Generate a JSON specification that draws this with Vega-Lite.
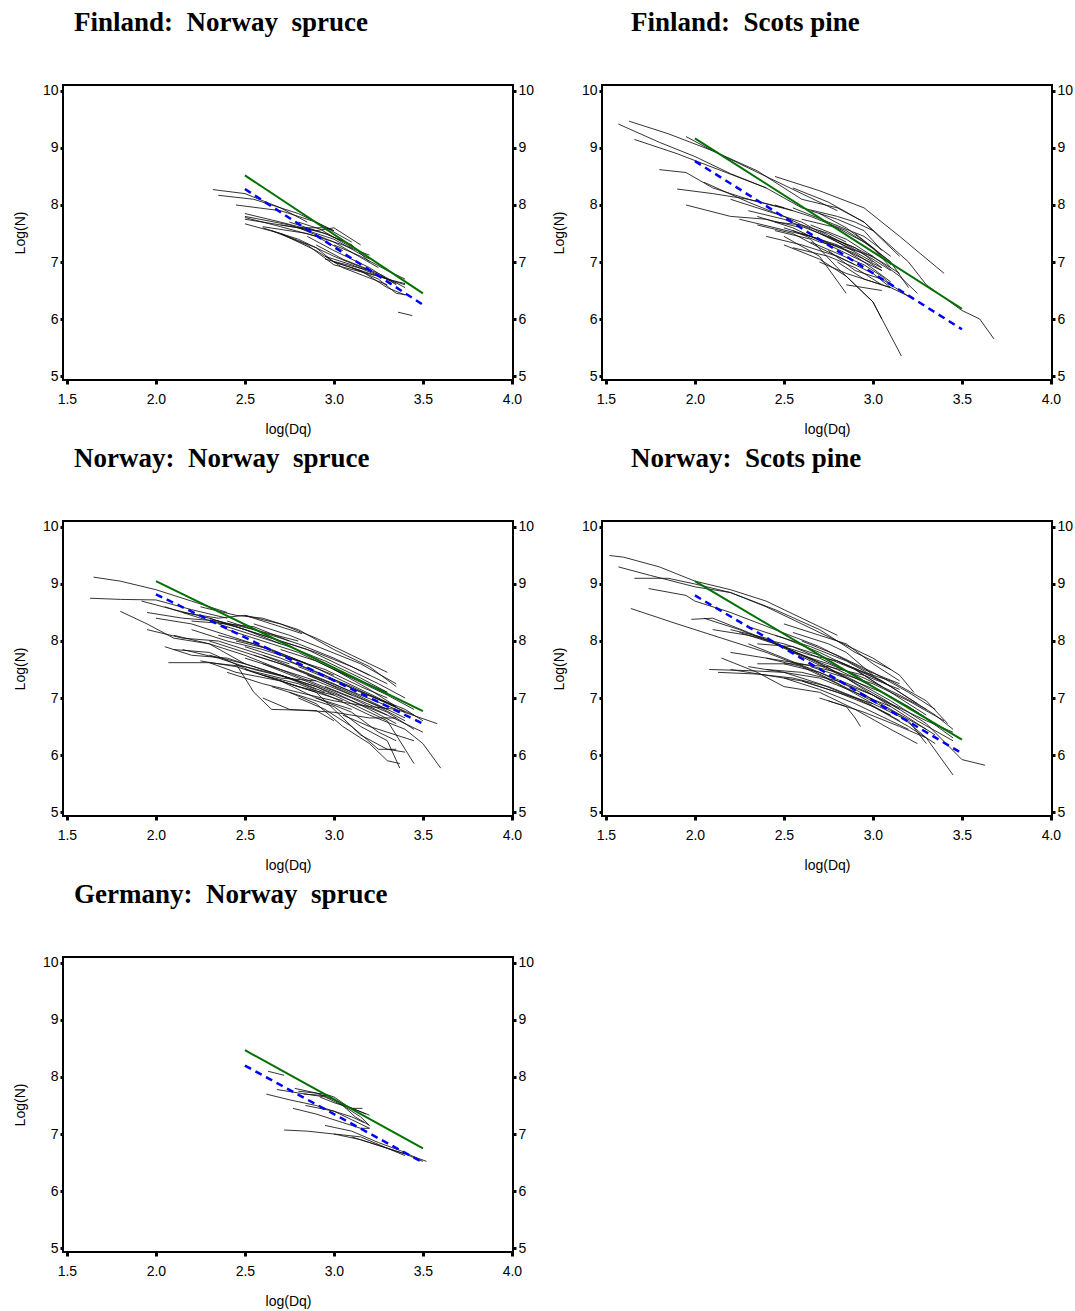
{
"$schema":"https://vega.github.io/schema/vega-lite/v6.json",
"background":"white",
"padding":{"left":12,"top":7,"right":5,"bottom":5},
"config":{
 "view":{"stroke":"black","strokeWidth":2},
 "axis":{"grid":false,"domain":false,"tickColor":"black","tickSize":4,"tickWidth":3,"labelFont":"Liberation Sans","labelFontSize":14,"labelColor":"black","titleFont":"Liberation Sans","titleFontSize":14,"titleFontWeight":"normal","titleColor":"black"},
 "title":{"font":"Liberation Serif","fontSize":27,"fontWeight":"bold","anchor":"start","frame":"group","dx":11,"offset":47,"baseline":"bottom","color":"black"}
},
"datasets":{
"ref":[
{"p":1,"k":"g","x":2.5,"y":8.52},{"p":1,"k":"g","x":3.5,"y":6.45},{"p":1,"k":"b","x":2.5,"y":8.28},{"p":1,"k":"b","x":3.5,"y":6.25},
{"p":2,"k":"g","x":2.0,"y":9.17},{"p":2,"k":"g","x":3.5,"y":6.18},{"p":2,"k":"b","x":2.0,"y":8.77},{"p":2,"k":"b","x":3.5,"y":5.82},
{"p":3,"k":"g","x":2.0,"y":9.05},{"p":3,"k":"g","x":3.5,"y":6.77},{"p":3,"k":"b","x":2.0,"y":8.82},{"p":3,"k":"b","x":3.5,"y":6.55},
{"p":4,"k":"g","x":2.0,"y":9.05},{"p":4,"k":"g","x":3.5,"y":6.27},{"p":4,"k":"b","x":2.0,"y":8.8},{"p":4,"k":"b","x":3.5,"y":6.03},
{"p":5,"k":"g","x":2.5,"y":8.47},{"p":5,"k":"g","x":3.5,"y":6.75},{"p":5,"k":"b","x":2.5,"y":8.2},{"p":5,"k":"b","x":3.5,"y":6.5}
],
"tr":[
{"p":1,"i":1,"x":2.32,"y":8.27},{"p":1,"i":1,"x":2.5,"y":8.2},{"p":1,"i":1,"x":2.7,"y":7.95},{"p":1,"i":1,"x":2.85,"y":7.7},
{"p":1,"i":2,"x":2.35,"y":8.17},{"p":1,"i":2,"x":2.55,"y":8.1},{"p":1,"i":2,"x":2.8,"y":7.85},{"p":1,"i":2,"x":3.0,"y":7.55},
{"p":1,"i":3,"x":2.45,"y":8.0},{"p":1,"i":3,"x":2.7,"y":7.9},{"p":1,"i":3,"x":2.9,"y":7.7},{"p":1,"i":3,"x":3.1,"y":7.35},
{"p":1,"i":4,"x":2.5,"y":7.85},{"p":1,"i":4,"x":2.7,"y":7.7},{"p":1,"i":4,"x":2.95,"y":7.5},{"p":1,"i":4,"x":3.1,"y":7.3},
{"p":1,"i":5,"x":2.5,"y":7.8},{"p":1,"i":5,"x":2.75,"y":7.65},{"p":1,"i":5,"x":3.0,"y":7.4},{"p":1,"i":5,"x":3.2,"y":7.05},
{"p":1,"i":6,"x":2.5,"y":7.75},{"p":1,"i":6,"x":2.8,"y":7.6},{"p":1,"i":6,"x":3.0,"y":7.35},{"p":1,"i":6,"x":3.25,"y":6.9},
{"p":1,"i":7,"x":2.5,"y":7.78},{"p":1,"i":7,"x":2.7,"y":7.62},{"p":1,"i":7,"x":2.9,"y":7.45},{"p":1,"i":7,"x":3.05,"y":7.2},
{"p":1,"i":8,"x":2.5,"y":7.67},{"p":1,"i":8,"x":2.7,"y":7.5},{"p":1,"i":8,"x":2.9,"y":7.25},{"p":1,"i":8,"x":3.0,"y":7.0},{"p":1,"i":8,"x":3.3,"y":6.7},
{"p":1,"i":9,"x":2.6,"y":7.6},{"p":1,"i":9,"x":2.8,"y":7.4},{"p":1,"i":9,"x":3.0,"y":7.1},{"p":1,"i":9,"x":3.2,"y":6.85},
{"p":1,"i":10,"x":2.65,"y":7.55},{"p":1,"i":10,"x":2.85,"y":7.3},{"p":1,"i":10,"x":3.0,"y":6.95},{"p":1,"i":10,"x":3.25,"y":6.75},{"p":1,"i":10,"x":3.4,"y":6.6},
{"p":1,"i":11,"x":2.7,"y":7.5},{"p":1,"i":11,"x":2.9,"y":7.2},{"p":1,"i":11,"x":3.05,"y":6.9},{"p":1,"i":11,"x":3.3,"y":6.6},
{"p":1,"i":12,"x":2.7,"y":7.65},{"p":1,"i":12,"x":2.9,"y":7.55},{"p":1,"i":12,"x":3.0,"y":7.6},{"p":1,"i":12,"x":3.15,"y":7.3},
{"p":1,"i":13,"x":2.8,"y":7.6},{"p":1,"i":13,"x":2.95,"y":7.6},{"p":1,"i":13,"x":3.0,"y":7.55},
{"p":1,"i":14,"x":2.75,"y":7.7},{"p":1,"i":14,"x":2.95,"y":7.5},{"p":1,"i":14,"x":3.1,"y":7.3},{"p":1,"i":14,"x":3.2,"y":7.0},
{"p":1,"i":15,"x":2.85,"y":7.45},{"p":1,"i":15,"x":3.0,"y":7.2},{"p":1,"i":15,"x":3.2,"y":6.9},{"p":1,"i":15,"x":3.35,"y":6.6},
{"p":1,"i":16,"x":2.9,"y":7.3},{"p":1,"i":16,"x":3.05,"y":7.05},{"p":1,"i":16,"x":3.25,"y":6.8},{"p":1,"i":16,"x":3.4,"y":6.55},
{"p":1,"i":17,"x":2.95,"y":7.1},{"p":1,"i":17,"x":3.1,"y":6.95},{"p":1,"i":17,"x":3.3,"y":6.7},{"p":1,"i":17,"x":3.4,"y":6.62},
{"p":1,"i":18,"x":3.0,"y":7.0},{"p":1,"i":18,"x":3.15,"y":6.85},{"p":1,"i":18,"x":3.3,"y":6.55},{"p":1,"i":18,"x":3.4,"y":6.42},
{"p":1,"i":19,"x":2.95,"y":7.05},{"p":1,"i":19,"x":3.2,"y":6.85},{"p":1,"i":19,"x":3.35,"y":6.62},
{"p":1,"i":20,"x":3.1,"y":6.9},{"p":1,"i":20,"x":3.25,"y":6.7},{"p":1,"i":20,"x":3.35,"y":6.45},{"p":1,"i":20,"x":3.42,"y":6.42},
{"p":1,"i":21,"x":3.36,"y":6.12},{"p":1,"i":21,"x":3.44,"y":6.06},
{"p":1,"i":22,"x":2.6,"y":7.62},{"p":1,"i":22,"x":2.85,"y":7.5},{"p":1,"i":22,"x":3.05,"y":7.3},{"p":1,"i":22,"x":3.2,"y":7.12},
{"p":1,"i":23,"x":2.8,"y":7.7},{"p":1,"i":23,"x":2.92,"y":7.58},{"p":1,"i":23,"x":3.1,"y":7.25},
{"p":1,"i":24,"x":3.0,"y":7.3},{"p":1,"i":24,"x":3.15,"y":7.1},{"p":1,"i":24,"x":3.3,"y":6.85},{"p":1,"i":24,"x":3.4,"y":6.7},

{"p":2,"i":1,"x":1.57,"y":9.42},{"p":2,"i":1,"x":1.8,"y":9.1},{"p":2,"i":1,"x":2.0,"y":8.85},{"p":2,"i":1,"x":2.2,"y":8.55},{"p":2,"i":1,"x":2.4,"y":8.3},
{"p":2,"i":2,"x":1.63,"y":9.47},{"p":2,"i":2,"x":1.85,"y":9.25},{"p":2,"i":2,"x":2.1,"y":8.95},{"p":2,"i":2,"x":2.35,"y":8.6},{"p":2,"i":2,"x":2.6,"y":8.1},
{"p":2,"i":3,"x":1.66,"y":9.15},{"p":2,"i":3,"x":1.9,"y":8.9},{"p":2,"i":3,"x":2.15,"y":8.6},{"p":2,"i":3,"x":2.4,"y":8.3},{"p":2,"i":3,"x":2.6,"y":7.95},
{"p":2,"i":4,"x":1.95,"y":9.2},{"p":2,"i":4,"x":2.1,"y":8.95},{"p":2,"i":4,"x":2.3,"y":8.65},{"p":2,"i":4,"x":2.5,"y":8.35},{"p":2,"i":4,"x":2.8,"y":7.9},
{"p":2,"i":5,"x":1.8,"y":8.62},{"p":2,"i":5,"x":1.95,"y":8.57},{"p":2,"i":5,"x":2.1,"y":8.3},{"p":2,"i":5,"x":2.3,"y":8.1},{"p":2,"i":5,"x":2.5,"y":7.95},
{"p":2,"i":6,"x":1.9,"y":8.28},{"p":2,"i":6,"x":2.1,"y":8.2},{"p":2,"i":6,"x":2.3,"y":8.1},{"p":2,"i":6,"x":2.55,"y":7.9},
{"p":2,"i":7,"x":1.95,"y":8.0},{"p":2,"i":7,"x":2.2,"y":7.8},{"p":2,"i":7,"x":2.4,"y":7.75},{"p":2,"i":7,"x":2.6,"y":7.6},
{"p":2,"i":8,"x":2.45,"y":8.5},{"p":2,"i":8,"x":2.7,"y":8.25},{"p":2,"i":8,"x":2.95,"y":7.95},{"p":2,"i":8,"x":3.15,"y":7.45},{"p":2,"i":8,"x":3.4,"y":6.8},
{"p":2,"i":9,"x":2.55,"y":8.3},{"p":2,"i":9,"x":2.75,"y":8.05},{"p":2,"i":9,"x":2.95,"y":7.7},{"p":2,"i":9,"x":3.2,"y":7.0},{"p":2,"i":9,"x":3.3,"y":6.6},{"p":2,"i":9,"x":3.5,"y":6.15},{"p":2,"i":9,"x":3.6,"y":6.0},{"p":2,"i":9,"x":3.68,"y":5.65},
{"p":2,"i":10,"x":2.6,"y":8.1},{"p":2,"i":10,"x":2.8,"y":7.95},{"p":2,"i":10,"x":2.95,"y":7.7},{"p":2,"i":10,"x":3.05,"y":7.4},{"p":2,"i":10,"x":3.15,"y":7.1},
{"p":2,"i":11,"x":2.05,"y":8.4},{"p":2,"i":11,"x":2.3,"y":8.05},{"p":2,"i":11,"x":2.5,"y":7.8},{"p":2,"i":11,"x":2.7,"y":7.5},{"p":2,"i":11,"x":2.9,"y":7.2},
{"p":2,"i":12,"x":2.2,"y":8.1},{"p":2,"i":12,"x":2.4,"y":7.9},{"p":2,"i":12,"x":2.6,"y":7.7},{"p":2,"i":12,"x":2.8,"y":7.35},{"p":2,"i":12,"x":3.0,"y":7.0},
{"p":2,"i":13,"x":2.3,"y":7.9},{"p":2,"i":13,"x":2.5,"y":7.75},{"p":2,"i":13,"x":2.7,"y":7.5},{"p":2,"i":13,"x":2.9,"y":7.25},{"p":2,"i":13,"x":3.05,"y":6.9},
{"p":2,"i":14,"x":2.35,"y":7.8},{"p":2,"i":14,"x":2.55,"y":7.6},{"p":2,"i":14,"x":2.75,"y":7.3},{"p":2,"i":14,"x":2.95,"y":7.0},{"p":2,"i":14,"x":3.1,"y":6.65},
{"p":2,"i":15,"x":2.4,"y":7.45},{"p":2,"i":15,"x":2.6,"y":7.3},{"p":2,"i":15,"x":2.8,"y":7.1},{"p":2,"i":15,"x":3.0,"y":6.8},{"p":2,"i":15,"x":3.1,"y":6.55},
{"p":2,"i":16,"x":2.45,"y":7.55},{"p":2,"i":16,"x":2.65,"y":7.4},{"p":2,"i":16,"x":2.8,"y":6.9},{"p":2,"i":16,"x":2.9,"y":6.6},{"p":2,"i":16,"x":3.0,"y":6.3},{"p":2,"i":16,"x":3.16,"y":5.35},
{"p":2,"i":17,"x":2.5,"y":7.3},{"p":2,"i":17,"x":2.7,"y":7.05},{"p":2,"i":17,"x":2.85,"y":6.75},{"p":2,"i":17,"x":3.0,"y":6.3},{"p":2,"i":17,"x":3.05,"y":6.0},
{"p":2,"i":18,"x":2.5,"y":7.45},{"p":2,"i":18,"x":2.7,"y":7.1},{"p":2,"i":18,"x":2.85,"y":6.45},
{"p":2,"i":19,"x":2.25,"y":7.75},{"p":2,"i":19,"x":2.45,"y":7.6},{"p":2,"i":19,"x":2.65,"y":7.45},{"p":2,"i":19,"x":2.85,"y":7.2},{"p":2,"i":19,"x":3.05,"y":6.9},
{"p":2,"i":20,"x":2.55,"y":7.95},{"p":2,"i":20,"x":2.75,"y":7.7},{"p":2,"i":20,"x":2.95,"y":7.45},{"p":2,"i":20,"x":3.1,"y":7.1},
{"p":2,"i":21,"x":2.6,"y":7.75},{"p":2,"i":21,"x":2.8,"y":7.6},{"p":2,"i":21,"x":2.95,"y":7.35},{"p":2,"i":21,"x":3.1,"y":7.0},{"p":2,"i":21,"x":3.2,"y":6.55},
{"p":2,"i":22,"x":2.65,"y":7.65},{"p":2,"i":22,"x":2.85,"y":7.4},{"p":2,"i":22,"x":3.0,"y":7.1},{"p":2,"i":22,"x":3.15,"y":6.75},{"p":2,"i":22,"x":3.25,"y":6.45},
{"p":2,"i":23,"x":2.7,"y":7.85},{"p":2,"i":23,"x":2.85,"y":7.6},{"p":2,"i":23,"x":3.0,"y":7.25},{"p":2,"i":23,"x":3.1,"y":6.9},
{"p":2,"i":24,"x":2.55,"y":7.25},{"p":2,"i":24,"x":2.75,"y":7.1},{"p":2,"i":24,"x":2.9,"y":6.9},{"p":2,"i":24,"x":3.05,"y":6.6},
{"p":2,"i":25,"x":2.75,"y":7.2},{"p":2,"i":25,"x":2.9,"y":6.85},{"p":2,"i":25,"x":3.05,"y":6.7},{"p":2,"i":25,"x":3.2,"y":6.4},
{"p":2,"i":26,"x":2.45,"y":8.0},{"p":2,"i":26,"x":2.65,"y":7.8},{"p":2,"i":26,"x":2.85,"y":7.55},{"p":2,"i":26,"x":3.0,"y":7.25},{"p":2,"i":26,"x":3.1,"y":6.95},
{"p":2,"i":27,"x":2.6,"y":7.95},{"p":2,"i":27,"x":2.8,"y":7.8},{"p":2,"i":27,"x":2.9,"y":7.7},{"p":2,"i":27,"x":3.0,"y":7.55},
{"p":2,"i":28,"x":2.7,"y":7.55},{"p":2,"i":28,"x":2.85,"y":7.3},{"p":2,"i":28,"x":3.0,"y":7.05},{"p":2,"i":28,"x":3.1,"y":6.85},
{"p":2,"i":29,"x":2.5,"y":7.6},{"p":2,"i":29,"x":2.7,"y":7.4},{"p":2,"i":29,"x":2.9,"y":7.15},{"p":2,"i":29,"x":3.05,"y":6.85},
{"p":2,"i":30,"x":2.8,"y":7.0},{"p":2,"i":30,"x":2.95,"y":6.7},{"p":2,"i":30,"x":3.1,"y":6.55},{"p":2,"i":30,"x":3.2,"y":6.4},
{"p":2,"i":31,"x":2.35,"y":7.65},{"p":2,"i":31,"x":2.55,"y":7.5},{"p":2,"i":31,"x":2.7,"y":7.25},{"p":2,"i":31,"x":2.9,"y":6.95},
{"p":2,"i":32,"x":2.65,"y":7.35},{"p":2,"i":32,"x":2.8,"y":7.15},{"p":2,"i":32,"x":2.95,"y":6.95},{"p":2,"i":32,"x":3.05,"y":6.75},{"p":2,"i":32,"x":3.1,"y":6.6},
{"p":2,"i":33,"x":2.75,"y":7.45},{"p":2,"i":33,"x":2.9,"y":7.25},{"p":2,"i":33,"x":3.05,"y":7.0},{"p":2,"i":33,"x":3.15,"y":6.8},
{"p":2,"i":34,"x":2.85,"y":6.6},{"p":2,"i":34,"x":2.95,"y":6.55},{"p":2,"i":34,"x":3.05,"y":6.5},
{"p":2,"i":35,"x":2.55,"y":7.55},{"p":2,"i":35,"x":2.7,"y":7.35},{"p":2,"i":35,"x":2.85,"y":7.25},{"p":2,"i":35,"x":3.0,"y":7.1},
{"p":2,"i":36,"x":2.6,"y":7.5},{"p":2,"i":36,"x":2.8,"y":7.3},{"p":2,"i":36,"x":2.95,"y":7.0},{"p":2,"i":36,"x":3.05,"y":6.85},
{"p":2,"i":37,"x":2.9,"y":7.5},{"p":2,"i":37,"x":3.0,"y":7.25},{"p":2,"i":37,"x":3.1,"y":7.0},
{"p":2,"i":38,"x":2.45,"y":7.7},{"p":2,"i":38,"x":2.6,"y":7.65},{"p":2,"i":38,"x":2.75,"y":7.5},{"p":2,"i":38,"x":2.85,"y":7.35},
{"p":2,"i":39,"x":2.65,"y":7.9},{"p":2,"i":39,"x":2.8,"y":7.75},{"p":2,"i":39,"x":2.95,"y":7.55},{"p":2,"i":39,"x":3.05,"y":7.2},
{"p":2,"i":40,"x":2.7,"y":7.0},{"p":2,"i":40,"x":2.85,"y":6.8},{"p":2,"i":40,"x":3.0,"y":6.65},{"p":2,"i":40,"x":3.1,"y":6.55},

{"p":3,"i":1,"x":1.65,"y":9.12},{"p":3,"i":1,"x":1.8,"y":9.05},{"p":3,"i":1,"x":2.0,"y":8.9},{"p":3,"i":1,"x":2.2,"y":8.7},{"p":3,"i":1,"x":2.4,"y":8.5},
{"p":3,"i":2,"x":1.63,"y":8.75},{"p":3,"i":2,"x":1.8,"y":8.73},{"p":3,"i":2,"x":2.0,"y":8.72},{"p":3,"i":2,"x":2.2,"y":8.55},{"p":3,"i":2,"x":2.4,"y":8.4},
{"p":3,"i":3,"x":1.8,"y":8.52},{"p":3,"i":3,"x":1.95,"y":8.3},{"p":3,"i":3,"x":2.1,"y":8.05},{"p":3,"i":3,"x":2.3,"y":7.95},{"p":3,"i":3,"x":2.5,"y":7.6},
{"p":3,"i":4,"x":1.92,"y":8.7},{"p":3,"i":4,"x":2.1,"y":8.55},{"p":3,"i":4,"x":2.3,"y":8.4},{"p":3,"i":4,"x":2.5,"y":8.2},{"p":3,"i":4,"x":2.7,"y":7.95},
{"p":3,"i":5,"x":1.95,"y":8.5},{"p":3,"i":5,"x":2.15,"y":8.4},{"p":3,"i":5,"x":2.35,"y":8.35},{"p":3,"i":5,"x":2.55,"y":8.2},{"p":3,"i":5,"x":2.8,"y":8.0},
{"p":3,"i":6,"x":1.95,"y":8.2},{"p":3,"i":6,"x":2.15,"y":8.05},{"p":3,"i":6,"x":2.35,"y":8.0},{"p":3,"i":6,"x":2.55,"y":7.8},{"p":3,"i":6,"x":2.75,"y":7.6},
{"p":3,"i":7,"x":2.0,"y":8.4},{"p":3,"i":7,"x":2.2,"y":8.3},{"p":3,"i":7,"x":2.4,"y":8.1},{"p":3,"i":7,"x":2.6,"y":7.9},{"p":3,"i":7,"x":2.85,"y":7.6},
{"p":3,"i":8,"x":2.05,"y":7.9},{"p":3,"i":8,"x":2.2,"y":7.75},{"p":3,"i":8,"x":2.4,"y":7.7},{"p":3,"i":8,"x":2.6,"y":7.5},{"p":3,"i":8,"x":2.8,"y":7.3},
{"p":3,"i":9,"x":2.07,"y":7.62},{"p":3,"i":9,"x":2.3,"y":7.62},{"p":3,"i":9,"x":2.5,"y":7.55},{"p":3,"i":9,"x":2.7,"y":7.4},{"p":3,"i":9,"x":2.9,"y":7.15},
{"p":3,"i":10,"x":2.15,"y":8.5},{"p":3,"i":10,"x":2.35,"y":8.4},{"p":3,"i":10,"x":2.5,"y":8.45},{"p":3,"i":10,"x":2.65,"y":8.3},{"p":3,"i":10,"x":2.82,"y":8.13},
{"p":3,"i":11,"x":2.25,"y":8.6},{"p":3,"i":11,"x":2.45,"y":8.45},{"p":3,"i":11,"x":2.6,"y":8.4},{"p":3,"i":11,"x":2.8,"y":8.2},{"p":3,"i":11,"x":3.0,"y":7.85},{"p":3,"i":11,"x":3.2,"y":7.55},{"p":3,"i":11,"x":3.35,"y":7.2},
{"p":3,"i":12,"x":2.3,"y":8.4},{"p":3,"i":12,"x":2.5,"y":8.2},{"p":3,"i":12,"x":2.7,"y":8.0},{"p":3,"i":12,"x":2.9,"y":7.8},{"p":3,"i":12,"x":3.1,"y":7.55},{"p":3,"i":12,"x":3.3,"y":7.25},
{"p":3,"i":13,"x":2.35,"y":8.3},{"p":3,"i":13,"x":2.55,"y":8.1},{"p":3,"i":13,"x":2.75,"y":7.9},{"p":3,"i":13,"x":2.95,"y":7.65},{"p":3,"i":13,"x":3.15,"y":7.35},{"p":3,"i":13,"x":3.3,"y":7.1},
{"p":3,"i":14,"x":2.4,"y":8.2},{"p":3,"i":14,"x":2.6,"y":8.0},{"p":3,"i":14,"x":2.8,"y":7.8},{"p":3,"i":14,"x":3.0,"y":7.5},{"p":3,"i":14,"x":3.2,"y":7.15},{"p":3,"i":14,"x":3.35,"y":6.85},
{"p":3,"i":15,"x":2.45,"y":8.0},{"p":3,"i":15,"x":2.65,"y":7.85},{"p":3,"i":15,"x":2.85,"y":7.6},{"p":3,"i":15,"x":3.05,"y":7.3},{"p":3,"i":15,"x":3.25,"y":7.0},{"p":3,"i":15,"x":3.4,"y":6.75},
{"p":3,"i":16,"x":2.5,"y":7.9},{"p":3,"i":16,"x":2.7,"y":7.7},{"p":3,"i":16,"x":2.9,"y":7.45},{"p":3,"i":16,"x":3.1,"y":7.2},{"p":3,"i":16,"x":3.3,"y":6.9},{"p":3,"i":16,"x":3.45,"y":6.7},
{"p":3,"i":17,"x":2.55,"y":7.75},{"p":3,"i":17,"x":2.75,"y":7.55},{"p":3,"i":17,"x":2.95,"y":7.3},{"p":3,"i":17,"x":3.15,"y":7.05},{"p":3,"i":17,"x":3.35,"y":6.8},{"p":3,"i":17,"x":3.58,"y":6.55},
{"p":3,"i":18,"x":2.5,"y":7.7},{"p":3,"i":18,"x":2.7,"y":7.5},{"p":3,"i":18,"x":2.9,"y":7.25},{"p":3,"i":18,"x":3.1,"y":7.0},{"p":3,"i":18,"x":3.3,"y":6.7},{"p":3,"i":18,"x":3.5,"y":6.4},
{"p":3,"i":19,"x":2.6,"y":7.6},{"p":3,"i":19,"x":2.8,"y":7.35},{"p":3,"i":19,"x":3.0,"y":7.1},{"p":3,"i":19,"x":3.2,"y":6.8},{"p":3,"i":19,"x":3.35,"y":6.55},
{"p":3,"i":20,"x":2.6,"y":7.4},{"p":3,"i":20,"x":2.8,"y":7.25},{"p":3,"i":20,"x":3.0,"y":7.0},{"p":3,"i":20,"x":3.2,"y":6.7},{"p":3,"i":20,"x":3.4,"y":6.45},{"p":3,"i":20,"x":3.5,"y":6.2},{"p":3,"i":20,"x":3.6,"y":5.77},
{"p":3,"i":21,"x":2.65,"y":7.2},{"p":3,"i":21,"x":2.85,"y":7.0},{"p":3,"i":21,"x":3.0,"y":6.85},{"p":3,"i":21,"x":3.15,"y":6.5},{"p":3,"i":21,"x":3.3,"y":6.25},{"p":3,"i":21,"x":3.37,"y":5.77},
{"p":3,"i":22,"x":2.7,"y":7.3},{"p":3,"i":22,"x":2.9,"y":7.1},{"p":3,"i":22,"x":3.0,"y":6.8},{"p":3,"i":22,"x":3.15,"y":6.35},{"p":3,"i":22,"x":3.3,"y":6.1},{"p":3,"i":22,"x":3.4,"y":6.05},
{"p":3,"i":23,"x":2.75,"y":7.1},{"p":3,"i":23,"x":2.9,"y":6.9},{"p":3,"i":23,"x":3.05,"y":6.5},{"p":3,"i":23,"x":3.2,"y":6.2},{"p":3,"i":23,"x":3.3,"y":5.9},{"p":3,"i":23,"x":3.37,"y":5.85},
{"p":3,"i":24,"x":2.8,"y":7.0},{"p":3,"i":24,"x":2.95,"y":6.8},{"p":3,"i":24,"x":3.1,"y":6.5},{"p":3,"i":24,"x":3.25,"y":6.1},{"p":3,"i":24,"x":3.35,"y":6.1},
{"p":3,"i":25,"x":2.6,"y":7.0},{"p":3,"i":25,"x":2.75,"y":6.8},{"p":3,"i":25,"x":3.0,"y":6.75},{"p":3,"i":25,"x":3.2,"y":6.65},{"p":3,"i":25,"x":3.35,"y":6.65},
{"p":3,"i":26,"x":2.45,"y":7.6},{"p":3,"i":26,"x":2.55,"y":7.1},{"p":3,"i":26,"x":2.65,"y":6.8},{"p":3,"i":26,"x":2.9,"y":6.78},{"p":3,"i":26,"x":3.0,"y":6.6},
{"p":3,"i":27,"x":2.7,"y":7.4},{"p":3,"i":27,"x":2.9,"y":7.2},{"p":3,"i":27,"x":3.1,"y":6.9},{"p":3,"i":27,"x":3.3,"y":6.6},{"p":3,"i":27,"x":3.45,"y":5.85},
{"p":3,"i":28,"x":2.9,"y":7.0},{"p":3,"i":28,"x":3.1,"y":6.75},{"p":3,"i":28,"x":3.25,"y":6.4},{"p":3,"i":28,"x":3.35,"y":6.25},
{"p":3,"i":29,"x":3.05,"y":6.7},{"p":3,"i":29,"x":3.2,"y":6.5},{"p":3,"i":29,"x":3.35,"y":6.35},{"p":3,"i":29,"x":3.45,"y":6.25},
{"p":3,"i":30,"x":2.3,"y":8.0},{"p":3,"i":30,"x":2.5,"y":7.8},{"p":3,"i":30,"x":2.7,"y":7.6},{"p":3,"i":30,"x":2.9,"y":7.35},{"p":3,"i":30,"x":3.1,"y":7.05},
{"p":3,"i":31,"x":2.2,"y":8.2},{"p":3,"i":31,"x":2.4,"y":8.0},{"p":3,"i":31,"x":2.6,"y":7.85},{"p":3,"i":31,"x":2.8,"y":7.65},{"p":3,"i":31,"x":3.0,"y":7.4},
{"p":3,"i":32,"x":2.1,"y":8.1},{"p":3,"i":32,"x":2.3,"y":7.95},{"p":3,"i":32,"x":2.5,"y":7.75},{"p":3,"i":32,"x":2.7,"y":7.5},{"p":3,"i":32,"x":2.9,"y":7.3},
{"p":3,"i":33,"x":2.15,"y":7.85},{"p":3,"i":33,"x":2.35,"y":7.7},{"p":3,"i":33,"x":2.55,"y":7.5},{"p":3,"i":33,"x":2.75,"y":7.35},{"p":3,"i":33,"x":2.95,"y":7.1},
{"p":3,"i":34,"x":2.25,"y":7.65},{"p":3,"i":34,"x":2.45,"y":7.55},{"p":3,"i":34,"x":2.65,"y":7.35},{"p":3,"i":34,"x":2.85,"y":7.15},{"p":3,"i":34,"x":3.05,"y":6.95},
{"p":3,"i":35,"x":2.3,"y":7.75},{"p":3,"i":35,"x":2.5,"y":7.6},{"p":3,"i":35,"x":2.7,"y":7.4},{"p":3,"i":35,"x":2.9,"y":7.2},{"p":3,"i":35,"x":3.1,"y":6.95},{"p":3,"i":35,"x":3.3,"y":6.7},
{"p":3,"i":36,"x":2.35,"y":8.1},{"p":3,"i":36,"x":2.55,"y":7.95},{"p":3,"i":36,"x":2.75,"y":7.7},{"p":3,"i":36,"x":2.95,"y":7.5},{"p":3,"i":36,"x":3.15,"y":7.2},{"p":3,"i":36,"x":3.3,"y":7.0},
{"p":3,"i":37,"x":2.4,"y":8.35},{"p":3,"i":37,"x":2.6,"y":8.15},{"p":3,"i":37,"x":2.8,"y":7.95},{"p":3,"i":37,"x":3.0,"y":7.7},{"p":3,"i":37,"x":3.2,"y":7.4},
{"p":3,"i":38,"x":2.5,"y":8.45},{"p":3,"i":38,"x":2.7,"y":8.3},{"p":3,"i":38,"x":2.9,"y":8.05},{"p":3,"i":38,"x":3.1,"y":7.75},{"p":3,"i":38,"x":3.3,"y":7.45},
{"p":3,"i":39,"x":2.55,"y":8.3},{"p":3,"i":39,"x":2.75,"y":8.1},{"p":3,"i":39,"x":2.95,"y":7.85},{"p":3,"i":39,"x":3.15,"y":7.6},{"p":3,"i":39,"x":3.35,"y":7.25},
{"p":3,"i":40,"x":2.65,"y":8.05},{"p":3,"i":40,"x":2.85,"y":7.85},{"p":3,"i":40,"x":3.05,"y":7.55},{"p":3,"i":40,"x":3.25,"y":7.25},{"p":3,"i":40,"x":3.4,"y":7.0},
{"p":3,"i":41,"x":2.7,"y":7.85},{"p":3,"i":41,"x":2.9,"y":7.65},{"p":3,"i":41,"x":3.1,"y":7.35},{"p":3,"i":41,"x":3.3,"y":7.05},{"p":3,"i":41,"x":3.45,"y":6.8},
{"p":3,"i":42,"x":2.8,"y":7.55},{"p":3,"i":42,"x":3.0,"y":7.3},{"p":3,"i":42,"x":3.2,"y":7.05},{"p":3,"i":42,"x":3.4,"y":6.8},{"p":3,"i":42,"x":3.5,"y":6.6},
{"p":3,"i":43,"x":2.85,"y":7.4},{"p":3,"i":43,"x":3.05,"y":7.15},{"p":3,"i":43,"x":3.25,"y":6.85},{"p":3,"i":43,"x":3.4,"y":6.6},
{"p":3,"i":44,"x":2.95,"y":7.2},{"p":3,"i":44,"x":3.15,"y":6.95},{"p":3,"i":44,"x":3.3,"y":6.75},{"p":3,"i":44,"x":3.45,"y":6.45},
{"p":3,"i":45,"x":3.0,"y":7.5},{"p":3,"i":45,"x":3.15,"y":7.3},{"p":3,"i":45,"x":3.3,"y":7.1},
{"p":3,"i":46,"x":2.05,"y":8.6},{"p":3,"i":46,"x":2.25,"y":8.4},{"p":3,"i":46,"x":2.45,"y":8.25},{"p":3,"i":46,"x":2.65,"y":8.05},
{"p":3,"i":47,"x":2.2,"y":8.35},{"p":3,"i":47,"x":2.4,"y":8.3},{"p":3,"i":47,"x":2.55,"y":8.25},{"p":3,"i":47,"x":2.75,"y":8.0},
{"p":3,"i":48,"x":2.1,"y":7.85},{"p":3,"i":48,"x":2.3,"y":7.8},{"p":3,"i":48,"x":2.55,"y":7.45},{"p":3,"i":48,"x":2.8,"y":7.2},{"p":3,"i":48,"x":3.0,"y":7.05},
{"p":3,"i":49,"x":2.4,"y":7.45},{"p":3,"i":49,"x":2.6,"y":7.25},{"p":3,"i":49,"x":2.8,"y":7.1},{"p":3,"i":49,"x":3.0,"y":6.95},{"p":3,"i":49,"x":3.2,"y":6.85},{"p":3,"i":49,"x":3.35,"y":6.8},
{"p":3,"i":50,"x":2.5,"y":7.5},{"p":3,"i":50,"x":2.7,"y":7.35},{"p":3,"i":50,"x":2.9,"y":7.3},{"p":3,"i":50,"x":3.1,"y":7.05},{"p":3,"i":50,"x":3.3,"y":6.8},
{"p":3,"i":51,"x":2.6,"y":7.75},{"p":3,"i":51,"x":2.8,"y":7.5},{"p":3,"i":51,"x":3.0,"y":7.25},{"p":3,"i":51,"x":3.2,"y":6.95},{"p":3,"i":51,"x":3.4,"y":6.65},
{"p":3,"i":52,"x":2.75,"y":7.65},{"p":3,"i":52,"x":2.95,"y":7.4},{"p":3,"i":52,"x":3.15,"y":7.1},{"p":3,"i":52,"x":3.35,"y":6.85},
{"p":3,"i":53,"x":2.3,"y":7.62},{"p":3,"i":53,"x":2.45,"y":7.45},{"p":3,"i":53,"x":2.7,"y":7.3},{"p":3,"i":53,"x":2.9,"y":7.0},{"p":3,"i":53,"x":3.1,"y":6.8},

{"p":4,"i":1,"x":1.52,"y":9.5},{"p":4,"i":1,"x":1.6,"y":9.47},{"p":4,"i":1,"x":1.8,"y":9.3},{"p":4,"i":1,"x":2.0,"y":9.05},{"p":4,"i":1,"x":2.2,"y":8.9},{"p":4,"i":1,"x":2.4,"y":8.7},{"p":4,"i":1,"x":2.6,"y":8.4},{"p":4,"i":1,"x":2.8,"y":8.1},
{"p":4,"i":2,"x":1.57,"y":9.3},{"p":4,"i":2,"x":1.75,"y":9.15},{"p":4,"i":2,"x":2.0,"y":8.95},{"p":4,"i":2,"x":2.2,"y":8.85},{"p":4,"i":2,"x":2.4,"y":8.6},{"p":4,"i":2,"x":2.6,"y":8.3},{"p":4,"i":2,"x":2.8,"y":8.0},{"p":4,"i":2,"x":3.0,"y":7.7},{"p":4,"i":2,"x":3.15,"y":7.4},{"p":4,"i":2,"x":3.23,"y":7.1},
{"p":4,"i":3,"x":1.66,"y":9.1},{"p":4,"i":3,"x":1.85,"y":9.1},{"p":4,"i":3,"x":2.0,"y":9.0},{"p":4,"i":3,"x":2.2,"y":8.85},{"p":4,"i":3,"x":2.45,"y":8.55},{"p":4,"i":3,"x":2.7,"y":8.2},{"p":4,"i":3,"x":2.9,"y":7.8},{"p":4,"i":3,"x":3.1,"y":7.5},
{"p":4,"i":4,"x":1.74,"y":8.92},{"p":4,"i":4,"x":1.95,"y":8.8},{"p":4,"i":4,"x":2.0,"y":8.7},{"p":4,"i":4,"x":2.2,"y":8.5},{"p":4,"i":4,"x":2.45,"y":8.2},{"p":4,"i":4,"x":2.7,"y":7.9},{"p":4,"i":4,"x":2.95,"y":7.5},{"p":4,"i":4,"x":3.15,"y":7.25},
{"p":4,"i":5,"x":1.64,"y":8.57},{"p":4,"i":5,"x":1.9,"y":8.3},{"p":4,"i":5,"x":2.15,"y":8.05},{"p":4,"i":5,"x":2.4,"y":7.8},{"p":4,"i":5,"x":2.65,"y":7.5},{"p":4,"i":5,"x":2.9,"y":7.1},{"p":4,"i":5,"x":3.15,"y":6.7},{"p":4,"i":5,"x":3.3,"y":6.3},{"p":4,"i":5,"x":3.45,"y":5.65},
{"p":4,"i":6,"x":1.98,"y":8.38},{"p":4,"i":6,"x":2.1,"y":8.4},{"p":4,"i":6,"x":2.3,"y":8.15},{"p":4,"i":6,"x":2.5,"y":7.9},{"p":4,"i":6,"x":2.7,"y":7.6},{"p":4,"i":6,"x":2.9,"y":7.3},{"p":4,"i":6,"x":3.1,"y":6.95},{"p":4,"i":6,"x":3.3,"y":6.55},{"p":4,"i":6,"x":3.5,"y":5.92},{"p":4,"i":6,"x":3.63,"y":5.82},
{"p":4,"i":7,"x":2.05,"y":8.4},{"p":4,"i":7,"x":2.25,"y":8.2},{"p":4,"i":7,"x":2.45,"y":7.95},{"p":4,"i":7,"x":2.65,"y":7.7},{"p":4,"i":7,"x":2.85,"y":7.35},{"p":4,"i":7,"x":3.0,"y":7.05},{"p":4,"i":7,"x":3.2,"y":6.65},{"p":4,"i":7,"x":3.35,"y":6.35},
{"p":4,"i":8,"x":2.2,"y":8.2},{"p":4,"i":8,"x":2.4,"y":8.05},{"p":4,"i":8,"x":2.6,"y":7.75},{"p":4,"i":8,"x":2.8,"y":7.5},{"p":4,"i":8,"x":3.0,"y":7.2},{"p":4,"i":8,"x":3.2,"y":6.85},{"p":4,"i":8,"x":3.4,"y":6.45},
{"p":4,"i":9,"x":2.25,"y":8.15},{"p":4,"i":9,"x":2.45,"y":7.95},{"p":4,"i":9,"x":2.65,"y":7.65},{"p":4,"i":9,"x":2.85,"y":7.35},{"p":4,"i":9,"x":3.05,"y":7.0},{"p":4,"i":9,"x":3.25,"y":6.6},{"p":4,"i":9,"x":3.45,"y":6.25},
{"p":4,"i":10,"x":2.2,"y":7.8},{"p":4,"i":10,"x":2.4,"y":7.7},{"p":4,"i":10,"x":2.6,"y":7.55},{"p":4,"i":10,"x":2.8,"y":7.25},{"p":4,"i":10,"x":3.0,"y":6.9},{"p":4,"i":10,"x":3.2,"y":6.6},{"p":4,"i":10,"x":3.3,"y":6.2},
{"p":4,"i":11,"x":2.15,"y":7.7},{"p":4,"i":11,"x":2.35,"y":7.45},{"p":4,"i":11,"x":2.5,"y":7.2},{"p":4,"i":11,"x":2.7,"y":7.1},{"p":4,"i":11,"x":2.9,"y":6.8},{"p":4,"i":11,"x":3.1,"y":6.45},{"p":4,"i":11,"x":3.25,"y":6.2},
{"p":4,"i":12,"x":2.08,"y":7.5},{"p":4,"i":12,"x":2.3,"y":7.48},{"p":4,"i":12,"x":2.5,"y":7.45},{"p":4,"i":12,"x":2.7,"y":7.35},{"p":4,"i":12,"x":2.9,"y":7.1},{"p":4,"i":12,"x":3.1,"y":6.85},
{"p":4,"i":13,"x":2.13,"y":7.45},{"p":4,"i":13,"x":2.35,"y":7.42},{"p":4,"i":13,"x":2.55,"y":7.35},{"p":4,"i":13,"x":2.75,"y":7.2},{"p":4,"i":13,"x":2.95,"y":6.95},{"p":4,"i":13,"x":3.15,"y":6.6},
{"p":4,"i":14,"x":2.3,"y":7.95},{"p":4,"i":14,"x":2.5,"y":7.7},{"p":4,"i":14,"x":2.7,"y":7.45},{"p":4,"i":14,"x":2.9,"y":7.15},{"p":4,"i":14,"x":3.1,"y":6.8},{"p":4,"i":14,"x":3.3,"y":6.45},
{"p":4,"i":15,"x":2.3,"y":8.25},{"p":4,"i":15,"x":2.5,"y":8.05},{"p":4,"i":15,"x":2.7,"y":7.8},{"p":4,"i":15,"x":2.9,"y":7.5},{"p":4,"i":15,"x":3.1,"y":7.1},{"p":4,"i":15,"x":3.3,"y":6.7},
{"p":4,"i":16,"x":2.35,"y":7.6},{"p":4,"i":16,"x":2.55,"y":7.6},{"p":4,"i":16,"x":2.75,"y":7.55},{"p":4,"i":16,"x":2.95,"y":7.4},{"p":4,"i":16,"x":3.15,"y":7.15},
{"p":4,"i":17,"x":2.4,"y":7.7},{"p":4,"i":17,"x":2.6,"y":7.6},{"p":4,"i":17,"x":2.8,"y":7.45},{"p":4,"i":17,"x":3.0,"y":7.25},{"p":4,"i":17,"x":3.2,"y":6.95},{"p":4,"i":17,"x":3.4,"y":6.6},
{"p":4,"i":18,"x":2.45,"y":8.1},{"p":4,"i":18,"x":2.65,"y":7.9},{"p":4,"i":18,"x":2.85,"y":7.65},{"p":4,"i":18,"x":3.05,"y":7.3},{"p":4,"i":18,"x":3.25,"y":6.9},
{"p":4,"i":19,"x":2.5,"y":8.3},{"p":4,"i":19,"x":2.7,"y":8.1},{"p":4,"i":19,"x":2.85,"y":7.95},{"p":4,"i":19,"x":3.0,"y":7.6},{"p":4,"i":19,"x":3.15,"y":7.3},
{"p":4,"i":20,"x":2.55,"y":8.15},{"p":4,"i":20,"x":2.75,"y":7.95},{"p":4,"i":20,"x":2.85,"y":7.8},{"p":4,"i":20,"x":3.0,"y":7.4},
{"p":4,"i":21,"x":2.1,"y":8.2},{"p":4,"i":21,"x":2.3,"y":8.1},{"p":4,"i":21,"x":2.5,"y":7.95},{"p":4,"i":21,"x":2.7,"y":7.75},{"p":4,"i":21,"x":2.9,"y":7.5},{"p":4,"i":21,"x":3.05,"y":7.2},
{"p":4,"i":22,"x":2.5,"y":7.6},{"p":4,"i":22,"x":2.7,"y":7.45},{"p":4,"i":22,"x":2.9,"y":7.2},{"p":4,"i":22,"x":3.1,"y":6.9},{"p":4,"i":22,"x":3.3,"y":6.6},{"p":4,"i":22,"x":3.45,"y":6.4},
{"p":4,"i":23,"x":2.6,"y":7.3},{"p":4,"i":23,"x":2.8,"y":7.1},{"p":4,"i":23,"x":3.0,"y":6.85},{"p":4,"i":23,"x":3.2,"y":6.5},{"p":4,"i":23,"x":3.35,"y":6.2},
{"p":4,"i":24,"x":2.7,"y":7.0},{"p":4,"i":24,"x":2.85,"y":6.85},{"p":4,"i":24,"x":2.9,"y":6.65},{"p":4,"i":24,"x":2.93,"y":6.5},
{"p":4,"i":25,"x":2.75,"y":6.95},{"p":4,"i":25,"x":2.95,"y":6.75},{"p":4,"i":25,"x":3.15,"y":6.5},{"p":4,"i":25,"x":3.3,"y":6.3},
{"p":4,"i":26,"x":2.2,"y":7.5},{"p":4,"i":26,"x":2.4,"y":7.4},{"p":4,"i":26,"x":2.6,"y":7.3},{"p":4,"i":26,"x":2.8,"y":7.1},{"p":4,"i":26,"x":3.0,"y":6.9},
{"p":4,"i":27,"x":2.5,"y":7.35},{"p":4,"i":27,"x":2.7,"y":7.15},{"p":4,"i":27,"x":2.9,"y":6.9},{"p":4,"i":27,"x":3.1,"y":6.6},{"p":4,"i":27,"x":3.2,"y":6.45},
{"p":4,"i":28,"x":2.4,"y":7.5},{"p":4,"i":28,"x":2.6,"y":7.45},{"p":4,"i":28,"x":2.8,"y":7.3},{"p":4,"i":28,"x":3.0,"y":7.05},{"p":4,"i":28,"x":3.15,"y":6.8},
{"p":4,"i":29,"x":2.9,"y":7.5},{"p":4,"i":29,"x":3.05,"y":7.3},{"p":4,"i":29,"x":3.2,"y":7.0},{"p":4,"i":29,"x":3.35,"y":6.7},{"p":4,"i":29,"x":3.45,"y":6.45},
{"p":4,"i":30,"x":2.8,"y":7.65},{"p":4,"i":30,"x":2.95,"y":7.45},{"p":4,"i":30,"x":3.1,"y":7.3},{"p":4,"i":30,"x":3.3,"y":6.95},{"p":4,"i":30,"x":3.42,"y":6.55},
{"p":4,"i":31,"x":2.45,"y":7.95},{"p":4,"i":31,"x":2.65,"y":7.75},{"p":4,"i":31,"x":2.8,"y":7.65},{"p":4,"i":31,"x":2.95,"y":7.45},{"p":4,"i":31,"x":3.1,"y":7.2},
{"p":4,"i":32,"x":2.35,"y":7.95},{"p":4,"i":32,"x":2.55,"y":7.9},{"p":4,"i":32,"x":2.7,"y":7.7},{"p":4,"i":32,"x":2.9,"y":7.4},{"p":4,"i":32,"x":3.0,"y":7.2},
{"p":4,"i":33,"x":2.55,"y":7.8},{"p":4,"i":33,"x":2.75,"y":7.6},{"p":4,"i":33,"x":2.95,"y":7.35},{"p":4,"i":33,"x":3.15,"y":7.05},{"p":4,"i":33,"x":3.3,"y":6.8},
{"p":4,"i":34,"x":2.65,"y":7.55},{"p":4,"i":34,"x":2.85,"y":7.35},{"p":4,"i":34,"x":3.05,"y":7.1},{"p":4,"i":34,"x":3.25,"y":6.75},{"p":4,"i":34,"x":3.45,"y":6.3},
{"p":4,"i":35,"x":2.3,"y":7.55},{"p":4,"i":35,"x":2.5,"y":7.45},{"p":4,"i":35,"x":2.7,"y":7.25},{"p":4,"i":35,"x":2.9,"y":7.0},{"p":4,"i":35,"x":3.1,"y":6.7},
{"p":4,"i":36,"x":2.6,"y":8.0},{"p":4,"i":36,"x":2.8,"y":7.75},{"p":4,"i":36,"x":3.0,"y":7.45},{"p":4,"i":36,"x":3.2,"y":7.1},{"p":4,"i":36,"x":3.35,"y":6.8},

{"p":5,"i":1,"x":2.63,"y":8.1},{"p":5,"i":1,"x":2.72,"y":8.03},
{"p":5,"i":2,"x":2.62,"y":7.7},{"p":5,"i":2,"x":2.75,"y":7.6},{"p":5,"i":2,"x":2.9,"y":7.5},{"p":5,"i":2,"x":3.0,"y":7.4},{"p":5,"i":2,"x":3.1,"y":7.25},{"p":5,"i":2,"x":3.2,"y":7.1},
{"p":5,"i":3,"x":2.68,"y":7.78},{"p":5,"i":3,"x":2.8,"y":7.72},{"p":5,"i":3,"x":2.95,"y":7.65},{"p":5,"i":3,"x":3.05,"y":7.5},{"p":5,"i":3,"x":3.15,"y":7.3},{"p":5,"i":3,"x":3.2,"y":7.15},
{"p":5,"i":4,"x":2.78,"y":7.8},{"p":5,"i":4,"x":2.9,"y":7.72},{"p":5,"i":4,"x":3.0,"y":7.6},{"p":5,"i":4,"x":3.1,"y":7.45},{"p":5,"i":4,"x":3.18,"y":7.35},
{"p":5,"i":5,"x":2.8,"y":7.75},{"p":5,"i":5,"x":2.95,"y":7.7},{"p":5,"i":5,"x":3.0,"y":7.65},{"p":5,"i":5,"x":3.08,"y":7.48},{"p":5,"i":5,"x":3.2,"y":7.33},
{"p":5,"i":6,"x":2.83,"y":7.7},{"p":5,"i":6,"x":2.97,"y":7.67},{"p":5,"i":6,"x":3.05,"y":7.5},{"p":5,"i":6,"x":3.12,"y":7.3},{"p":5,"i":6,"x":3.2,"y":7.15},
{"p":5,"i":7,"x":2.77,"y":7.45},{"p":5,"i":7,"x":2.9,"y":7.35},{"p":5,"i":7,"x":3.05,"y":7.2},{"p":5,"i":7,"x":3.15,"y":7.1},{"p":5,"i":7,"x":3.2,"y":7.1},
{"p":5,"i":8,"x":2.84,"y":7.5},{"p":5,"i":8,"x":3.0,"y":7.4},{"p":5,"i":8,"x":3.1,"y":7.3},{"p":5,"i":8,"x":3.17,"y":7.2},
{"p":5,"i":9,"x":2.92,"y":7.65},{"p":5,"i":9,"x":3.0,"y":7.55},{"p":5,"i":9,"x":3.1,"y":7.45},{"p":5,"i":9,"x":3.16,"y":7.45},
{"p":5,"i":10,"x":2.72,"y":7.07},{"p":5,"i":10,"x":2.85,"y":7.05},{"p":5,"i":10,"x":3.0,"y":7.0},{"p":5,"i":10,"x":3.15,"y":6.95},{"p":5,"i":10,"x":3.3,"y":6.75},{"p":5,"i":10,"x":3.4,"y":6.65},{"p":5,"i":10,"x":3.5,"y":6.52},
{"p":5,"i":11,"x":2.95,"y":7.15},{"p":5,"i":11,"x":3.1,"y":7.05},{"p":5,"i":11,"x":3.25,"y":6.85},{"p":5,"i":11,"x":3.38,"y":6.7},{"p":5,"i":11,"x":3.45,"y":6.6},{"p":5,"i":11,"x":3.52,"y":6.52},
{"p":5,"i":12,"x":3.0,"y":7.0},{"p":5,"i":12,"x":3.15,"y":6.9},{"p":5,"i":12,"x":3.3,"y":6.75},{"p":5,"i":12,"x":3.4,"y":6.62},
{"p":5,"i":13,"x":3.1,"y":6.95},{"p":5,"i":13,"x":3.25,"y":6.8},{"p":5,"i":13,"x":3.35,"y":6.7},{"p":5,"i":13,"x":3.4,"y":6.65}
]
},
"spacing":6,
"vconcat":[
{"hconcat":[
 {"width":450,"height":295,"title":{"text":"Finland:\u00a0 Norway\u00a0 spruce","dx":11},"layer":[
  {"data":{"name":"tr"},"transform":[{"filter":"datum.p==1"}],"mark":{"type":"line","color":"#111111","strokeWidth":0.85},"encoding":{"x":{"field":"x","type":"quantitative","scale":{"domain":[1.478,4.006],"nice":false,"zero":false},"axis":{"values":[1.5,2,2.5,3,3.5,4],"format":".1f","title":"log(Dq)","labelPadding":8,"titlePadding":16}},"y":{"field":"y","type":"quantitative","scale":{"domain":[4.93,10.105],"nice":false,"zero":false},"axis":{"orient":"left","values":[5,6,7,8,9,10],"format":"d","title":"Log(N)","labelPadding":2,"titlePadding":15,"tickSize":3}},"detail":{"field":"i","type":"nominal"}}},
  {"data":{"name":"ref"},"transform":[{"filter":"datum.p==1 && datum.k=='g'"}],"mark":{"type":"line","color":"#007000","strokeWidth":2},"encoding":{"x":{"field":"x","type":"quantitative","scale":{"domain":[1.478,4.006],"nice":false,"zero":false},"axis":{"values":[1.5,2,2.5,3,3.5,4],"format":".1f","title":"log(Dq)","labelPadding":8,"titlePadding":16}},"y":{"field":"y","type":"quantitative","scale":{"domain":[4.93,10.105],"nice":false,"zero":false},"axis":{"orient":"right","values":[5,6,7,8,9,10],"format":"d","title":null,"labelPadding":2,"tickSize":3}}}},
  {"data":{"name":"ref"},"transform":[{"filter":"datum.p==1 && datum.k=='b'"}],"mark":{"type":"line","color":"#0000ff","strokeWidth":2.5,"strokeDash":[7,5]},"encoding":{"x":{"field":"x","type":"quantitative","scale":{"domain":[1.478,4.006],"nice":false,"zero":false},"axis":{"values":[1.5,2,2.5,3,3.5,4],"format":".1f","title":"log(Dq)","labelPadding":8,"titlePadding":16}},"y":{"field":"y","type":"quantitative","scale":{"domain":[4.93,10.105],"nice":false,"zero":false},"axis":null}}}
 ],"resolve":{"axis":{"y":"independent"}}},
 {"width":450,"height":295,"title":{"text":"Finland:\u00a0 Scots pine","dx":29},"layer":[
  {"data":{"name":"tr"},"transform":[{"filter":"datum.p==2"}],"mark":{"type":"line","color":"#111111","strokeWidth":0.85},"encoding":{"x":{"field":"x","type":"quantitative","scale":{"domain":[1.478,4.006],"nice":false,"zero":false},"axis":{"values":[1.5,2,2.5,3,3.5,4],"format":".1f","title":"log(Dq)","labelPadding":8,"titlePadding":16}},"y":{"field":"y","type":"quantitative","scale":{"domain":[4.93,10.105],"nice":false,"zero":false},"axis":{"orient":"left","values":[5,6,7,8,9,10],"format":"d","title":"Log(N)","labelPadding":2,"titlePadding":15,"tickSize":3}},"detail":{"field":"i","type":"nominal"}}},
  {"data":{"name":"ref"},"transform":[{"filter":"datum.p==2 && datum.k=='g'"}],"mark":{"type":"line","color":"#007000","strokeWidth":2},"encoding":{"x":{"field":"x","type":"quantitative","scale":{"domain":[1.478,4.006],"nice":false,"zero":false},"axis":{"values":[1.5,2,2.5,3,3.5,4],"format":".1f","title":"log(Dq)","labelPadding":8,"titlePadding":16}},"y":{"field":"y","type":"quantitative","scale":{"domain":[4.93,10.105],"nice":false,"zero":false},"axis":{"orient":"right","values":[5,6,7,8,9,10],"format":"d","title":null,"labelPadding":2,"tickSize":3}}}},
  {"data":{"name":"ref"},"transform":[{"filter":"datum.p==2 && datum.k=='b'"}],"mark":{"type":"line","color":"#0000ff","strokeWidth":2.5,"strokeDash":[7,5]},"encoding":{"x":{"field":"x","type":"quantitative","scale":{"domain":[1.478,4.006],"nice":false,"zero":false},"axis":{"values":[1.5,2,2.5,3,3.5,4],"format":".1f","title":"log(Dq)","labelPadding":8,"titlePadding":16}},"y":{"field":"y","type":"quantitative","scale":{"domain":[4.93,10.105],"nice":false,"zero":false},"axis":null}}}
 ],"resolve":{"axis":{"y":"independent"}}}
],"spacing":16},
{"hconcat":[
 {"width":450,"height":295,"title":{"text":"Norway:\u00a0 Norway\u00a0 spruce","dx":11},"layer":[
  {"data":{"name":"tr"},"transform":[{"filter":"datum.p==3"}],"mark":{"type":"line","color":"#111111","strokeWidth":0.85},"encoding":{"x":{"field":"x","type":"quantitative","scale":{"domain":[1.478,4.006],"nice":false,"zero":false},"axis":{"values":[1.5,2,2.5,3,3.5,4],"format":".1f","title":"log(Dq)","labelPadding":8,"titlePadding":16}},"y":{"field":"y","type":"quantitative","scale":{"domain":[4.93,10.105],"nice":false,"zero":false},"axis":{"orient":"left","values":[5,6,7,8,9,10],"format":"d","title":"Log(N)","labelPadding":2,"titlePadding":15,"tickSize":3}},"detail":{"field":"i","type":"nominal"}}},
  {"data":{"name":"ref"},"transform":[{"filter":"datum.p==3 && datum.k=='g'"}],"mark":{"type":"line","color":"#007000","strokeWidth":2},"encoding":{"x":{"field":"x","type":"quantitative","scale":{"domain":[1.478,4.006],"nice":false,"zero":false},"axis":{"values":[1.5,2,2.5,3,3.5,4],"format":".1f","title":"log(Dq)","labelPadding":8,"titlePadding":16}},"y":{"field":"y","type":"quantitative","scale":{"domain":[4.93,10.105],"nice":false,"zero":false},"axis":{"orient":"right","values":[5,6,7,8,9,10],"format":"d","title":null,"labelPadding":2,"tickSize":3}}}},
  {"data":{"name":"ref"},"transform":[{"filter":"datum.p==3 && datum.k=='b'"}],"mark":{"type":"line","color":"#0000ff","strokeWidth":2.5,"strokeDash":[7,5]},"encoding":{"x":{"field":"x","type":"quantitative","scale":{"domain":[1.478,4.006],"nice":false,"zero":false},"axis":{"values":[1.5,2,2.5,3,3.5,4],"format":".1f","title":"log(Dq)","labelPadding":8,"titlePadding":16}},"y":{"field":"y","type":"quantitative","scale":{"domain":[4.93,10.105],"nice":false,"zero":false},"axis":null}}}
 ],"resolve":{"axis":{"y":"independent"}}},
 {"width":450,"height":295,"title":{"text":"Norway:\u00a0 Scots pine","dx":29},"layer":[
  {"data":{"name":"tr"},"transform":[{"filter":"datum.p==4"}],"mark":{"type":"line","color":"#111111","strokeWidth":0.85},"encoding":{"x":{"field":"x","type":"quantitative","scale":{"domain":[1.478,4.006],"nice":false,"zero":false},"axis":{"values":[1.5,2,2.5,3,3.5,4],"format":".1f","title":"log(Dq)","labelPadding":8,"titlePadding":16}},"y":{"field":"y","type":"quantitative","scale":{"domain":[4.93,10.105],"nice":false,"zero":false},"axis":{"orient":"left","values":[5,6,7,8,9,10],"format":"d","title":"Log(N)","labelPadding":2,"titlePadding":15,"tickSize":3}},"detail":{"field":"i","type":"nominal"}}},
  {"data":{"name":"ref"},"transform":[{"filter":"datum.p==4 && datum.k=='g'"}],"mark":{"type":"line","color":"#007000","strokeWidth":2},"encoding":{"x":{"field":"x","type":"quantitative","scale":{"domain":[1.478,4.006],"nice":false,"zero":false},"axis":{"values":[1.5,2,2.5,3,3.5,4],"format":".1f","title":"log(Dq)","labelPadding":8,"titlePadding":16}},"y":{"field":"y","type":"quantitative","scale":{"domain":[4.93,10.105],"nice":false,"zero":false},"axis":{"orient":"right","values":[5,6,7,8,9,10],"format":"d","title":null,"labelPadding":2,"tickSize":3}}}},
  {"data":{"name":"ref"},"transform":[{"filter":"datum.p==4 && datum.k=='b'"}],"mark":{"type":"line","color":"#0000ff","strokeWidth":2.5,"strokeDash":[7,5]},"encoding":{"x":{"field":"x","type":"quantitative","scale":{"domain":[1.478,4.006],"nice":false,"zero":false},"axis":{"values":[1.5,2,2.5,3,3.5,4],"format":".1f","title":"log(Dq)","labelPadding":8,"titlePadding":16}},"y":{"field":"y","type":"quantitative","scale":{"domain":[4.93,10.105],"nice":false,"zero":false},"axis":null}}}
 ],"resolve":{"axis":{"y":"independent"}}}
],"spacing":16},
{"width":450,"height":295,"title":{"text":"Germany:\u00a0 Norway\u00a0 spruce","dx":11},"layer":[
  {"data":{"name":"tr"},"transform":[{"filter":"datum.p==5"}],"mark":{"type":"line","color":"#111111","strokeWidth":0.85},"encoding":{"x":{"field":"x","type":"quantitative","scale":{"domain":[1.478,4.006],"nice":false,"zero":false},"axis":{"values":[1.5,2,2.5,3,3.5,4],"format":".1f","title":"log(Dq)","labelPadding":8,"titlePadding":16}},"y":{"field":"y","type":"quantitative","scale":{"domain":[4.93,10.105],"nice":false,"zero":false},"axis":{"orient":"left","values":[5,6,7,8,9,10],"format":"d","title":"Log(N)","labelPadding":2,"titlePadding":15,"tickSize":3}},"detail":{"field":"i","type":"nominal"}}},
  {"data":{"name":"ref"},"transform":[{"filter":"datum.p==5 && datum.k=='g'"}],"mark":{"type":"line","color":"#007000","strokeWidth":2},"encoding":{"x":{"field":"x","type":"quantitative","scale":{"domain":[1.478,4.006],"nice":false,"zero":false},"axis":{"values":[1.5,2,2.5,3,3.5,4],"format":".1f","title":"log(Dq)","labelPadding":8,"titlePadding":16}},"y":{"field":"y","type":"quantitative","scale":{"domain":[4.93,10.105],"nice":false,"zero":false},"axis":{"orient":"right","values":[5,6,7,8,9,10],"format":"d","title":null,"labelPadding":2,"tickSize":3}}}},
  {"data":{"name":"ref"},"transform":[{"filter":"datum.p==5 && datum.k=='b'"}],"mark":{"type":"line","color":"#0000ff","strokeWidth":2.5,"strokeDash":[7,5]},"encoding":{"x":{"field":"x","type":"quantitative","scale":{"domain":[1.478,4.006],"nice":false,"zero":false},"axis":{"values":[1.5,2,2.5,3,3.5,4],"format":".1f","title":"log(Dq)","labelPadding":8,"titlePadding":16}},"y":{"field":"y","type":"quantitative","scale":{"domain":[4.93,10.105],"nice":false,"zero":false},"axis":null}}}
 ],"resolve":{"axis":{"y":"independent"}}}
]
}
